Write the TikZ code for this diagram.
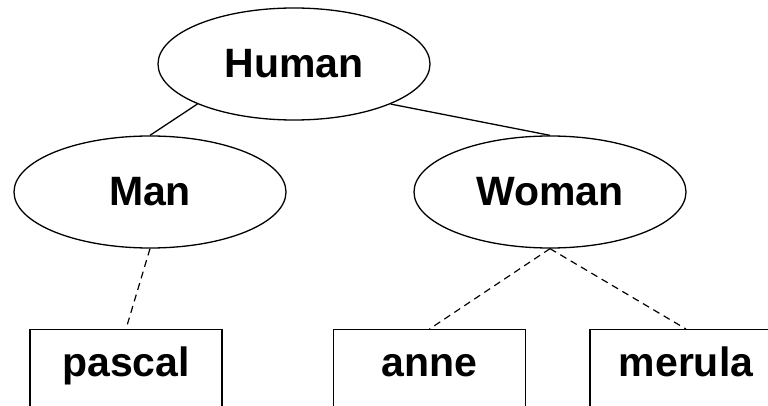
\documentclass[tikz,border=0pt]{standalone}
\usepackage{fontspec}
\setmainfont{Liberation Sans}
\usetikzlibrary{shapes.geometric}
\begin{document}
\begin{tikzpicture}[x=1pt,y=-1pt,
  class/.style={ellipse,draw,line width=1.3pt,minimum width=272pt,minimum height=112pt,inner sep=0pt,font=\fontsize{41}{45}\selectfont\bfseries},
  inst/.style={rectangle,draw,line width=1.4pt,anchor=north,minimum width=192pt,inner xsep=0pt,inner ysep=17pt,text height=30pt,text depth=25pt,font=\fontsize{41}{45}\selectfont\bfseries},
  isa/.style={line width=1.3pt},
  member/.style={line width=1.2pt,dash pattern=on 7pt off 5pt}]
\useasboundingbox (0,0) rectangle (768,406);
\fill[white] (0,0) rectangle (768,406);
\node[class] (human) at (294,64) {Human};
\node[class] (man) at (150,192) {Man};
\node[class] (woman) at (550,192) {Woman};
\node[inst] (pascal) at (126,329) {pascal};
\node[inst] (anne) at (429.5,329) {anne};
\node[inst] (merula) at (686,329) {merula};
\draw[isa] (human.south west) -- (man.north);
\draw[isa] (human.south east) -- (woman.north);
\draw[member] (man.south) -- (pascal.north);
\draw[member] (woman.south) -- (anne.north);
\draw[member] (woman.south) -- (merula.north);
\end{tikzpicture}
\end{document}
